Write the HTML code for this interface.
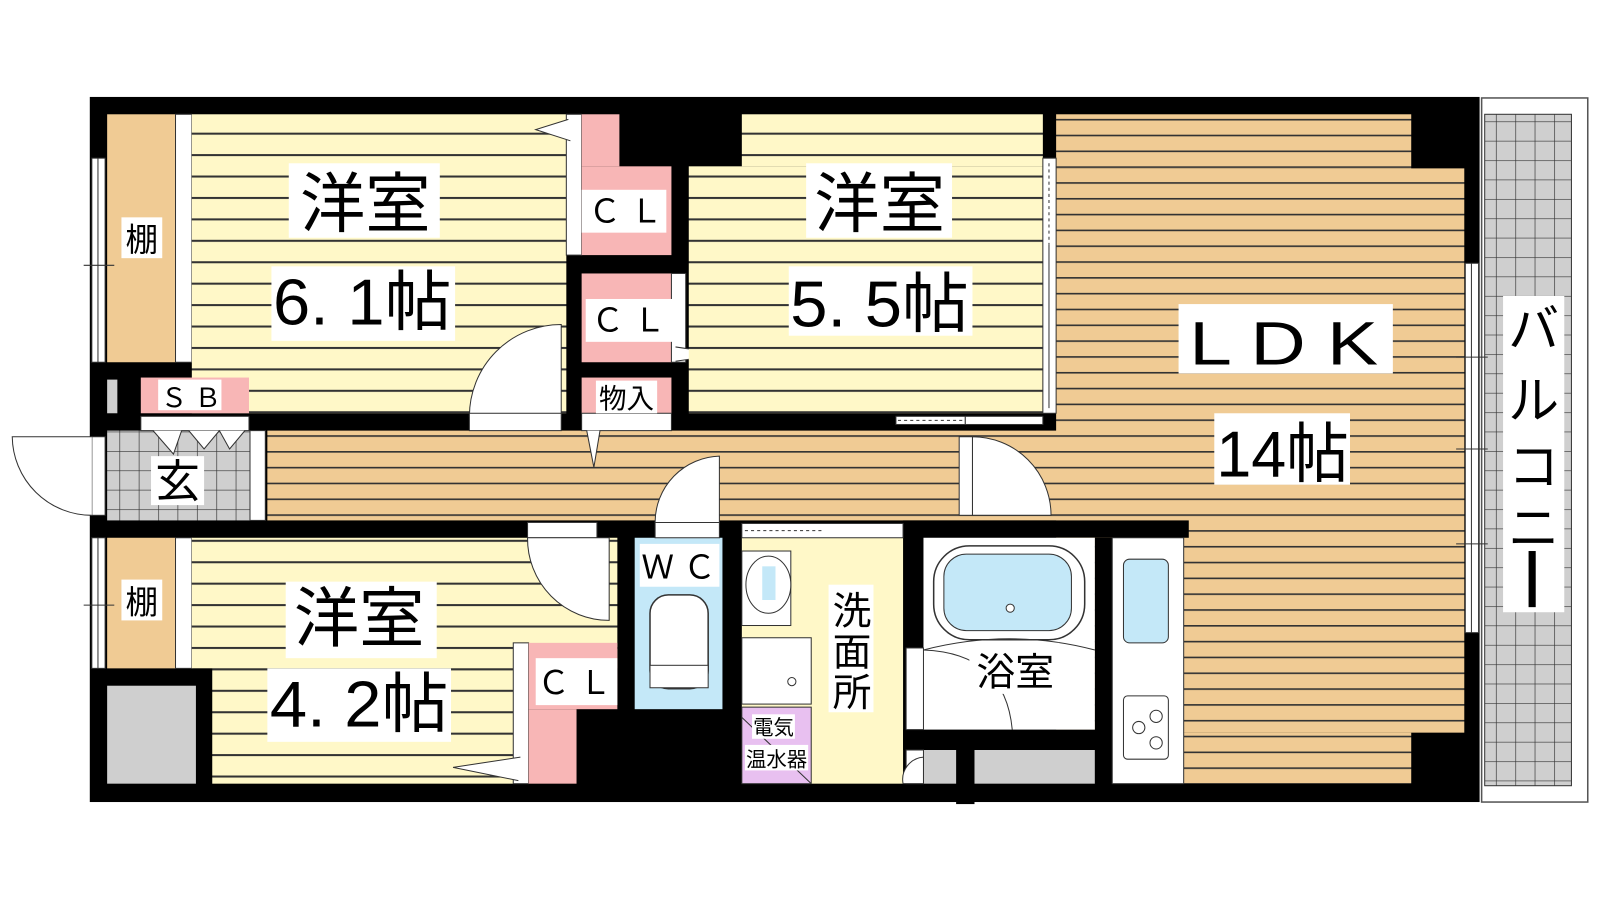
<!DOCTYPE html>
<html><head><meta charset="utf-8"><style>html,body{margin:0;padding:0;background:#fff;width:1600px;height:900px;overflow:hidden}svg{display:block}text{font-family:"Liberation Sans","Noto Sans CJK JP",sans-serif;fill:#000}</style></head><body>
<svg width="1600" height="900" viewBox="0 0 1568 882" preserveAspectRatio="none" xmlns="http://www.w3.org/2000/svg">
<defs>
<pattern id="ys" patternUnits="userSpaceOnUse" width="40" height="21" y="4"><rect width="40" height="21" fill="#fff8c8"/><rect y="0" width="40" height="2" fill="#333"/></pattern>
<pattern id="ts" patternUnits="userSpaceOnUse" width="40" height="15.5" y="8"><rect width="40" height="15.5" fill="#f0cb94"/><rect y="0" width="40" height="1.6" fill="#333"/></pattern>
<pattern id="gg" patternUnits="userSpaceOnUse" width="19" height="19" x="3" y="5"><rect width="19" height="19" fill="#cfcfcf"/><path d="M0 0H19M0 0V19" stroke="#333" stroke-width="1.3"/></pattern>
</defs>
<rect x="1452" y="96" width="104" height="690" fill="#fff" stroke="#555" stroke-width="1.5"/>
<rect x="1455" y="112" width="85" height="658" fill="url(#gg)" stroke="#333"/>
<rect x="1473" y="290" width="60" height="310" fill="#fff"/>
<text x="1503" y="340" font-size="50" text-anchor="middle">バ</text>
<text x="1503" y="410" font-size="50" text-anchor="middle">ル</text>
<text x="1503" y="475" font-size="50" text-anchor="middle">コ</text>
<text x="1503" y="535" font-size="50" text-anchor="middle">ニ</text>
<rect x="1498" y="540" width="7" height="55" fill="#000"/>
<rect x="88" y="95" width="1362" height="691" fill="#000"/>
<rect x="1035" y="112" width="348" height="53" fill="url(#ts)"/>
<rect x="1035" y="165" width="400" height="553" fill="url(#ts)"/>
<rect x="1160" y="718" width="223" height="50" fill="url(#ts)"/>
<rect x="262" y="422" width="780" height="88" fill="url(#ts)"/>
<rect x="885" y="510" width="280" height="17" fill="#000"/>
<rect x="1436" y="258" width="13" height="362" fill="#fff" stroke="#333"/><line x1="1442" y1="258" x2="1442" y2="620" stroke="#333"/>
<path d="M1427 350H1458M1427 440H1458M1427 533H1458" stroke="#333"/>
<rect x="105" y="112" width="67" height="243" fill="#f0cb94"/>
<rect x="172" y="112" width="16" height="243" fill="#fff" stroke="#333"/>
<rect x="90" y="155" width="13" height="200" fill="#fff" stroke="#333"/><line x1="96" y1="155" x2="96" y2="355" stroke="#333"/>
<line x1="82" y1="260" x2="112" y2="260" stroke="#333"/>
<rect x="119" y="213" width="40" height="40" fill="#fff"/><text x="139" y="246" font-size="32" text-anchor="middle">棚</text>
<rect x="188" y="112" width="367" height="293" fill="url(#ys)"/>
<rect x="555" y="112" width="15" height="138" fill="#fff" stroke="#333"/>
<rect x="570" y="112" width="37" height="51" fill="#f8b6b6"/>
<rect x="570" y="163" width="88" height="87" fill="#f8b6b6"/>
<rect x="570" y="186" width="83" height="42" fill="#fff"/><text x="613" y="218" font-size="32" text-anchor="middle">Ｃ Ｌ</text>
<path d="M557 117L525 127L559 138" fill="#fff" stroke="#333"/>
<rect x="570" y="268" width="88" height="87" fill="#f8b6b6"/>
<rect x="658" y="268" width="14" height="87" fill="#fff" stroke="#333"/>
<rect x="574" y="293" width="85" height="42" fill="#fff"/><text x="616" y="325" font-size="32" text-anchor="middle">Ｃ Ｌ</text>
<path d="M662 340L710 347L662 354" fill="#fff" stroke="#333"/>
<rect x="570" y="370" width="88" height="35" fill="#f8b6b6"/>
<rect x="570" y="405" width="88" height="17" fill="#fff" stroke="#333"/>
<rect x="584" y="373" width="60" height="32" fill="#fff"/><text x="614" y="400" font-size="27" text-anchor="middle">物入</text>
<path d="M575 422L582 458L588 422" fill="#fff" stroke="#333"/>
<rect x="727" y="112" width="295" height="51" fill="url(#ys)"/>
<rect x="675" y="163" width="347" height="242" fill="url(#ys)"/>
<rect x="1022" y="155" width="13" height="250" fill="#fff" stroke="#333"/>
<line x1="1028" y1="160" x2="1028" y2="240" stroke="#333" stroke-dasharray="3 3"/><line x1="1028" y1="240" x2="1028" y2="400" stroke="#333"/>
<rect x="878" y="408" width="68" height="8" fill="#fff" stroke="#333"/><line x1="880" y1="412" x2="944" y2="412" stroke="#333" stroke-dasharray="3 3"/>
<rect x="946" y="408" width="76" height="8" fill="#fff" stroke="#333"/>
<rect x="105" y="372" width="10" height="33" fill="#cfcfcf"/>
<rect x="138" y="370" width="106" height="35" fill="#f8b6b6"/>
<rect x="155" y="372" width="62" height="30" fill="#fff"/><text x="187" y="399" font-size="26" text-anchor="middle">Ｓ Ｂ</text>
<rect x="105" y="422" width="140" height="88" fill="url(#gg)"/>
<rect x="245" y="422" width="15" height="88" fill="#fff" stroke="#333"/>
<rect x="90" y="428" width="13" height="77" fill="#fff" stroke="#333"/>
<rect x="138" y="408" width="106" height="14" fill="#fff" stroke="#333"/>
<path d="M150 422L170 445L178 422M185 422L200 440L215 422M215 422L225 440L240 422" fill="#fff" stroke="#333"/>
<rect x="148" y="447" width="52" height="48" fill="#fff"/><text x="174" y="487" font-size="44" text-anchor="middle">玄</text>
<path d="M90 428H12A78 78 0 0 0 90 505" fill="#fff" stroke="#333"/>
<path d="M550 318V408H460A90 90 0 0 1 550 318Z" fill="#fff" stroke="#333"/>
<rect x="460" y="405" width="90" height="17" fill="#fff" stroke="#333"/>
<rect x="283" y="160" width="148" height="73" fill="#fff"/>
<text x="358" y="222" font-size="64" text-anchor="middle">洋室</text>
<rect x="266" y="261" width="180" height="73" fill="#fff"/>
<text x="355" y="318" font-size="64" text-anchor="middle" textLength="175" lengthAdjust="spacingAndGlyphs">6. 1帖</text>
<rect x="790" y="160" width="143" height="73" fill="#fff"/>
<text x="862" y="222" font-size="64" text-anchor="middle">洋室</text>
<rect x="773" y="261" width="180" height="68" fill="#fff"/>
<text x="862" y="320" font-size="64" text-anchor="middle" textLength="175" lengthAdjust="spacingAndGlyphs">5. 5帖</text>
<rect x="1155" y="298" width="210" height="68" fill="#fff"/>
<text x="1258" y="357" font-size="60" text-anchor="middle" textLength="185" lengthAdjust="spacingAndGlyphs">L D K</text>
<rect x="1190" y="405" width="133" height="70" fill="#fff"/>
<text x="1257" y="467" font-size="64" text-anchor="middle" textLength="130" lengthAdjust="spacingAndGlyphs">14帖</text>
<path d="M953 428V505H1030A77 77 0 0 0 953 428Z" fill="#fff" stroke="#333"/>
<rect x="940" y="428" width="13" height="77" fill="#fff" stroke="#333"/>
<rect x="105" y="527" width="67" height="128" fill="#f0cb94"/>
<rect x="172" y="527" width="16" height="128" fill="#fff" stroke="#333"/>
<rect x="90" y="527" width="13" height="128" fill="#fff" stroke="#333"/><line x1="96" y1="527" x2="96" y2="655" stroke="#333"/>
<line x1="82" y1="593" x2="112" y2="593" stroke="#333"/>
<rect x="119" y="568" width="40" height="40" fill="#fff"/><text x="139" y="601" font-size="32" text-anchor="middle">棚</text>
<rect x="105" y="672" width="87" height="96" fill="#cfcfcf"/>
<rect x="188" y="527" width="417" height="128" fill="url(#ys)"/>
<rect x="208" y="655" width="295" height="113" fill="url(#ys)"/>
<rect x="503" y="630" width="15" height="138" fill="#fff" stroke="#333"/>
<rect x="518" y="630" width="87" height="65" fill="#f8b6b6"/>
<rect x="518" y="695" width="47" height="73" fill="#f8b6b6"/>
<rect x="525" y="645" width="80" height="46" fill="#fff"/><text x="563" y="680" font-size="32" text-anchor="middle">Ｃ Ｌ</text>
<path d="M510 742L444 752L508 765" fill="#fff" stroke="#333"/>
<rect x="280" y="570" width="148" height="75" fill="#fff"/>
<text x="352" y="628" font-size="64" text-anchor="middle">洋室</text>
<rect x="262" y="655" width="180" height="72" fill="#fff"/>
<text x="352" y="712" font-size="64" text-anchor="middle" textLength="175" lengthAdjust="spacingAndGlyphs">4. 2帖</text>
<rect x="517" y="512" width="68" height="15" fill="#fff" stroke="#333"/>
<path d="M517 527H597V608A80 80 0 0 1 517 527Z" fill="#fff" stroke="#333"/>
<rect x="622" y="527" width="86" height="168" fill="#c4e8f8"/>
<rect x="627" y="533" width="78" height="42" fill="#fff"/><text x="665" y="567" font-size="32" text-anchor="middle">Ｗ Ｃ</text>
<rect x="637" y="583" width="57" height="92" rx="18" fill="#fff" stroke="#333" stroke-width="1.5"/>
<rect x="637" y="652" width="57" height="22" fill="#fff" stroke="#333"/>
<rect x="642" y="512" width="63" height="15" fill="#fff" stroke="#333"/>
<path d="M705 447V512H642A65 65 0 0 1 705 447Z" fill="#fff" stroke="#333"/>
<rect x="727" y="527" width="158" height="241" fill="#fff8c8"/>
<rect x="727" y="513" width="158" height="14" fill="#fff" stroke="#333"/><line x1="730" y1="520" x2="805" y2="520" stroke="#333" stroke-dasharray="3 3"/>
<rect x="727" y="540" width="48" height="73" fill="#fff" stroke="#333"/>
<ellipse cx="753" cy="573" rx="22" ry="28" fill="#fff" stroke="#333"/><rect x="747" y="555" width="13" height="33" fill="#c4e8f8"/>
<rect x="727" y="625" width="68" height="65" fill="#fff" stroke="#333"/>
<circle cx="776" cy="668" r="4" fill="#fff" stroke="#333"/>
<rect x="727" y="693" width="68" height="75" fill="#e8c0f0" stroke="#333"/>
<line x1="727" y1="703" x2="795" y2="768" stroke="#333"/>
<rect x="737" y="700" width="42" height="24" fill="#fff"/><text x="758" y="720" font-size="20" text-anchor="middle">電気</text>
<rect x="730" y="730" width="62" height="25" fill="#fff"/><text x="761" y="751" font-size="20" text-anchor="middle">温水器</text>
<rect x="812" y="573" width="44" height="125" fill="#fff"/>
<text x="835" y="612" font-size="38" text-anchor="middle">洗</text>
<text x="835" y="652" font-size="38" text-anchor="middle">面</text>
<text x="835" y="692" font-size="38" text-anchor="middle">所</text>
<rect x="885" y="715" width="205" height="20" fill="#000"/>
<rect x="905" y="527" width="168" height="188" fill="#fff"/>
<rect x="915" y="535" width="148" height="92" rx="35" fill="#fff" stroke="#333" stroke-width="1.5"/>
<rect x="925" y="543" width="125" height="75" rx="22" fill="#c4e8f8" stroke="#333"/>
<circle cx="990" cy="596" r="4" fill="#fff" stroke="#333"/>
<path d="M905 637Q990 615 1073 637" fill="none" stroke="#333"/>
<rect x="888" y="635" width="17" height="80" fill="#fff" stroke="#333"/>
<path d="M905 637Q985 640 992 715" fill="none" stroke="#333"/>
<rect x="950" y="630" width="88" height="50" fill="#fff"/><text x="995" y="672" font-size="38" text-anchor="middle">浴室</text>
<rect x="905" y="735" width="32" height="33" fill="#cfcfcf"/><rect x="955" y="735" width="118" height="33" fill="#cfcfcf"/>
<rect x="888" y="735" width="17" height="33" fill="#fff" stroke="#333"/>
<path d="M885 768H905V742A22 22 0 0 0 885 768Z" fill="#fff" stroke="#333"/>
<rect x="1073" y="527" width="17" height="241" fill="#000"/>
<rect x="1090" y="527" width="70" height="241" fill="#fff" stroke="#333"/>
<rect x="1101" y="548" width="44" height="82" rx="6" fill="#c4e8f8" stroke="#333"/>
<rect x="1101" y="682" width="44" height="62" rx="4" fill="#fff" stroke="#333"/>
<circle cx="1116" cy="713" r="6" fill="none" stroke="#333"/><circle cx="1133" cy="702" r="6" fill="none" stroke="#333"/><circle cx="1133" cy="728" r="6" fill="none" stroke="#333"/>
<rect x="937" y="770" width="18" height="18" fill="#000"/>
</svg>
</body></html>
